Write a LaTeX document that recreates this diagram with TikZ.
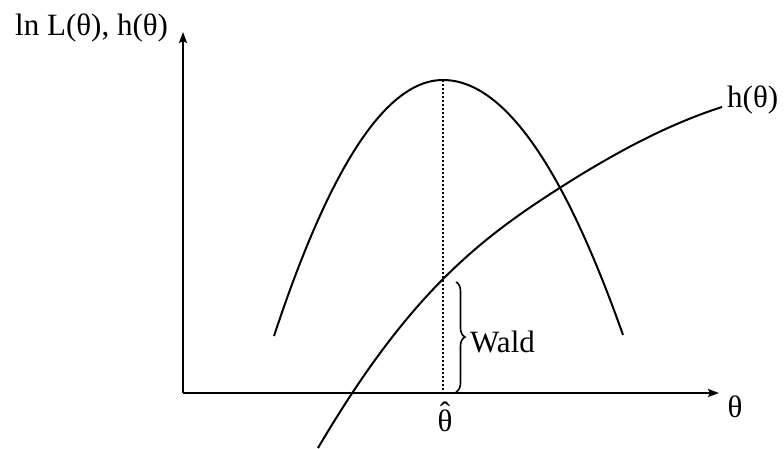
\documentclass[tikz,border=0pt]{standalone}
\usepackage{fontspec}
\setmainfont{Liberation Serif}
\usetikzlibrary{arrows.meta,decorations.pathreplacing}
\begin{document}
\begin{tikzpicture}[x=1pt,y=-1pt,
  axis/.style={line width=2pt,-{Stealth[length=11pt,width=8pt,inset=2pt]}},
  curve/.style={line width=2pt},
  lbl/.style={inner sep=0pt,font=\fontsize{31}{37}\selectfont},
  ]
\useasboundingbox (0,0) rectangle (784,448);
\coordinate (O) at (183,393);
\coordinate (ytop) at (183,32);
\coordinate (xend) at (719,393);
\coordinate (peak) at (443,80);
\coordinate (foot) at (443,393);
\coordinate (btop) at (456,282);
\coordinate (bbot) at (456,392);
\coordinate (hstart) at (318,448);
\coordinate (hmid) at (558,189);
\coordinate (hend) at (722,107);
% axes
\draw[axis] (O) -- (ytop);
\draw[axis] (O) -- (xend);
% log-likelihood
\draw[curve] plot[domain=-169:0,samples=50] ({443+\x},{80+256*(\x/169)^2})
  -- plot[domain=0:180,samples=50] ({443+\x},{80+255*(\x/180)^2});
% h(theta)
\draw[curve] (hstart) .. controls (408,295) and (478,240.2) .. (hmid)
  .. controls (613,153.8) and (667,124.6) .. (hend);
% dotted line at theta hat
\draw[line width=1.5pt,dash pattern=on 1.5pt off 2.5pt] (peak) -- (foot);
% brace
\draw[line width=1.6pt,decorate,decoration={brace,amplitude=9pt}] (btop) -- (bbot);
% labels
\node[lbl,anchor=base west] (ylab) at (15,35) {ln L(θ), h(θ)};
\node[lbl,anchor=base] (xlab) at (735,417) {θ};
\node[lbl,anchor=base] (thetahat) at (445,431) {\ooalign{θ\cr\hidewidth\raisebox{8pt}{ˆ}\hidewidth\cr}};
\node[lbl,anchor=base west] (wald) at (470,352) {Wald};
\node[lbl,anchor=base west] (hlab) at (727,107) {h(θ)};
\end{tikzpicture}
\end{document}
